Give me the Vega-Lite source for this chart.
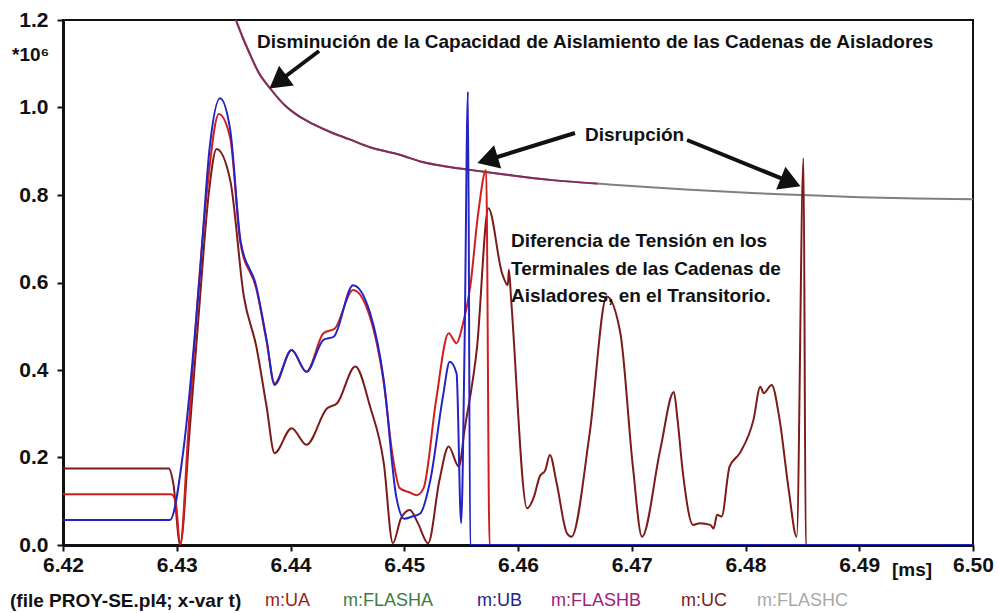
{
  "$schema": "https://vega.github.io/schema/vega-lite/v6.json",
  "width": 910,
  "height": 525,
  "autosize": {"type": "none"},
  "padding": {"left": 63, "top": 20, "right": 25, "bottom": 68},
  "background": "white",
  "config": {
    "font": "Liberation Sans",
    "view": {"stroke": "#111", "strokeWidth": 2},
    "axis": {
      "domainColor": "#111",
      "domainWidth": 3,
      "tickColor": "#111",
      "tickWidth": 2,
      "tickSize": 6,
      "labelColor": "#111",
      "labelFont": "Liberation Sans",
      "labelFontSize": 21,
      "labelFontWeight": "bold",
      "labelFlush": false,
      "labelOverlap": false,
      "grid": false,
      "title": null,
      "zindex": 1
    }
  },
  "datasets": {
    "curves": [
      {"s": "m:FLASHC", "t": 6.4352, "v": 1.2},
      {"s": "m:FLASHC", "t": 6.4358, "v": 1.16},
      {"s": "m:FLASHC", "t": 6.4364, "v": 1.124},
      {"s": "m:FLASHC", "t": 6.4372, "v": 1.08},
      {"s": "m:FLASHC", "t": 6.4382, "v": 1.044},
      {"s": "m:FLASHC", "t": 6.4395, "v": 1.005},
      {"s": "m:FLASHC", "t": 6.4408, "v": 0.979},
      {"s": "m:FLASHC", "t": 6.442, "v": 0.962},
      {"s": "m:FLASHC", "t": 6.4435, "v": 0.944},
      {"s": "m:FLASHC", "t": 6.4452, "v": 0.927},
      {"s": "m:FLASHC", "t": 6.447, "v": 0.909},
      {"s": "m:FLASHC", "t": 6.4496, "v": 0.892},
      {"s": "m:FLASHC", "t": 6.4515, "v": 0.876},
      {"s": "m:FLASHC", "t": 6.454, "v": 0.864},
      {"s": "m:FLASHC", "t": 6.4556, "v": 0.858},
      {"s": "m:FLASHC", "t": 6.4585, "v": 0.848},
      {"s": "m:FLASHC", "t": 6.463, "v": 0.834},
      {"s": "m:FLASHC", "t": 6.468, "v": 0.824},
      {"s": "m:FLASHC", "t": 6.472, "v": 0.817},
      {"s": "m:FLASHC", "t": 6.476, "v": 0.811},
      {"s": "m:FLASHC", "t": 6.481, "v": 0.804},
      {"s": "m:FLASHC", "t": 6.485, "v": 0.8},
      {"s": "m:FLASHC", "t": 6.49, "v": 0.795},
      {"s": "m:FLASHC", "t": 6.495, "v": 0.792},
      {"s": "m:FLASHC", "t": 6.5, "v": 0.79},

      {"s": "m:FLASHB", "t": 6.4352, "v": 1.2},
      {"s": "m:FLASHB", "t": 6.4358, "v": 1.16},
      {"s": "m:FLASHB", "t": 6.4364, "v": 1.124},
      {"s": "m:FLASHB", "t": 6.4372, "v": 1.08},
      {"s": "m:FLASHB", "t": 6.4382, "v": 1.044},
      {"s": "m:FLASHB", "t": 6.4395, "v": 1.005},
      {"s": "m:FLASHB", "t": 6.4408, "v": 0.979},
      {"s": "m:FLASHB", "t": 6.442, "v": 0.962},
      {"s": "m:FLASHB", "t": 6.4435, "v": 0.944},
      {"s": "m:FLASHB", "t": 6.4452, "v": 0.927},
      {"s": "m:FLASHB", "t": 6.447, "v": 0.909},
      {"s": "m:FLASHB", "t": 6.4496, "v": 0.892},
      {"s": "m:FLASHB", "t": 6.4515, "v": 0.876},
      {"s": "m:FLASHB", "t": 6.454, "v": 0.864},
      {"s": "m:FLASHB", "t": 6.4556, "v": 0.858},
      {"s": "m:FLASHB", "t": 6.4585, "v": 0.848},
      {"s": "m:FLASHB", "t": 6.463, "v": 0.834},
      {"s": "m:FLASHB", "t": 6.467, "v": 0.826},

      {"s": "m:UC", "t": 6.42, "v": 0.175},
      {"s": "m:UC", "t": 6.4293, "v": 0.175},
      {"s": "m:UC", "t": 6.4297, "v": 0.14},
      {"s": "m:UC", "t": 6.4303, "v": 0.0},
      {"s": "m:UC", "t": 6.4311, "v": 0.25},
      {"s": "m:UC", "t": 6.432, "v": 0.55},
      {"s": "m:UC", "t": 6.4328, "v": 0.8},
      {"s": "m:UC", "t": 6.4335, "v": 0.905},
      {"s": "m:UC", "t": 6.4347, "v": 0.834},
      {"s": "m:UC", "t": 6.4359, "v": 0.568},
      {"s": "m:UC", "t": 6.437, "v": 0.453},
      {"s": "m:UC", "t": 6.4379, "v": 0.316},
      {"s": "m:UC", "t": 6.4386, "v": 0.21},
      {"s": "m:UC", "t": 6.4401, "v": 0.267},
      {"s": "m:UC", "t": 6.4414, "v": 0.229},
      {"s": "m:UC", "t": 6.4432, "v": 0.312},
      {"s": "m:UC", "t": 6.4441, "v": 0.324},
      {"s": "m:UC", "t": 6.4457, "v": 0.408},
      {"s": "m:UC", "t": 6.447, "v": 0.316},
      {"s": "m:UC", "t": 6.4482, "v": 0.187},
      {"s": "m:UC", "t": 6.449, "v": 0.004},
      {"s": "m:UC", "t": 6.4497, "v": 0.06},
      {"s": "m:UC", "t": 6.4505, "v": 0.08},
      {"s": "m:UC", "t": 6.4512, "v": 0.05},
      {"s": "m:UC", "t": 6.4521, "v": 0.004},
      {"s": "m:UC", "t": 6.4531, "v": 0.149},
      {"s": "m:UC", "t": 6.4539, "v": 0.225},
      {"s": "m:UC", "t": 6.4548, "v": 0.179},
      {"s": "m:UC", "t": 6.4553, "v": 0.263},
      {"s": "m:UC", "t": 6.4564, "v": 0.453},
      {"s": "m:UC", "t": 6.4574, "v": 0.77},
      {"s": "m:UC", "t": 6.4586, "v": 0.621},
      {"s": "m:UC", "t": 6.4591, "v": 0.594},
      {"s": "m:UC", "t": 6.4592, "v": 0.629},
      {"s": "m:UC", "t": 6.4594, "v": 0.56},
      {"s": "m:UC", "t": 6.4608, "v": 0.084},
      {"s": "m:UC", "t": 6.4614, "v": 0.11},
      {"s": "m:UC", "t": 6.4619, "v": 0.156},
      {"s": "m:UC", "t": 6.4624, "v": 0.171},
      {"s": "m:UC", "t": 6.4628, "v": 0.206},
      {"s": "m:UC", "t": 6.4634, "v": 0.141},
      {"s": "m:UC", "t": 6.4643, "v": 0.027},
      {"s": "m:UC", "t": 6.4647, "v": 0.019},
      {"s": "m:UC", "t": 6.4663, "v": 0.255},
      {"s": "m:UC", "t": 6.4678, "v": 0.568},
      {"s": "m:UC", "t": 6.469, "v": 0.484},
      {"s": "m:UC", "t": 6.4701, "v": 0.179},
      {"s": "m:UC", "t": 6.4709, "v": 0.019},
      {"s": "m:UC", "t": 6.4725, "v": 0.217},
      {"s": "m:UC", "t": 6.4737, "v": 0.35},
      {"s": "m:UC", "t": 6.474, "v": 0.293},
      {"s": "m:UC", "t": 6.4745, "v": 0.164},
      {"s": "m:UC", "t": 6.4754, "v": 0.046},
      {"s": "m:UC", "t": 6.476, "v": 0.05},
      {"s": "m:UC", "t": 6.4769, "v": 0.046},
      {"s": "m:UC", "t": 6.4772, "v": 0.038},
      {"s": "m:UC", "t": 6.4775, "v": 0.069},
      {"s": "m:UC", "t": 6.4779, "v": 0.065},
      {"s": "m:UC", "t": 6.4786, "v": 0.179},
      {"s": "m:UC", "t": 6.4795, "v": 0.21},
      {"s": "m:UC", "t": 6.4807, "v": 0.286},
      {"s": "m:UC", "t": 6.4813, "v": 0.362},
      {"s": "m:UC", "t": 6.4816, "v": 0.347},
      {"s": "m:UC", "t": 6.4823, "v": 0.366},
      {"s": "m:UC", "t": 6.483, "v": 0.286},
      {"s": "m:UC", "t": 6.4838, "v": 0.126},
      {"s": "m:UC", "t": 6.4845, "v": 0.019},
      {"s": "m:UC", "t": 6.4851, "v": 0.884},
      {"s": "m:UC", "t": 6.4853, "v": 0.0},
      {"s": "m:UC", "t": 6.5, "v": 0.0},

      {"s": "m:UA", "t": 6.42, "v": 0.116},
      {"s": "m:UA", "t": 6.4295, "v": 0.116},
      {"s": "m:UA", "t": 6.4299, "v": 0.1},
      {"s": "m:UA", "t": 6.4303, "v": 0.0},
      {"s": "m:UA", "t": 6.431, "v": 0.25},
      {"s": "m:UA", "t": 6.4318, "v": 0.55},
      {"s": "m:UA", "t": 6.4327, "v": 0.82},
      {"s": "m:UA", "t": 6.4337, "v": 0.985},
      {"s": "m:UA", "t": 6.4347, "v": 0.93},
      {"s": "m:UA", "t": 6.4356, "v": 0.69},
      {"s": "m:UA", "t": 6.437, "v": 0.585},
      {"s": "m:UA", "t": 6.4379, "v": 0.465},
      {"s": "m:UA", "t": 6.4386, "v": 0.37},
      {"s": "m:UA", "t": 6.4401, "v": 0.446},
      {"s": "m:UA", "t": 6.4414, "v": 0.396},
      {"s": "m:UA", "t": 6.4429, "v": 0.484},
      {"s": "m:UA", "t": 6.4439, "v": 0.495},
      {"s": "m:UA", "t": 6.4455, "v": 0.583},
      {"s": "m:UA", "t": 6.447, "v": 0.52},
      {"s": "m:UA", "t": 6.4482, "v": 0.37},
      {"s": "m:UA", "t": 6.449, "v": 0.2},
      {"s": "m:UA", "t": 6.4496, "v": 0.13},
      {"s": "m:UA", "t": 6.4505, "v": 0.12},
      {"s": "m:UA", "t": 6.4511, "v": 0.114},
      {"s": "m:UA", "t": 6.4517, "v": 0.13},
      {"s": "m:UA", "t": 6.4528, "v": 0.331},
      {"s": "m:UA", "t": 6.4539, "v": 0.484},
      {"s": "m:UA", "t": 6.4546, "v": 0.461},
      {"s": "m:UA", "t": 6.4551, "v": 0.499},
      {"s": "m:UA", "t": 6.4558, "v": 0.59},
      {"s": "m:UA", "t": 6.4565, "v": 0.758},
      {"s": "m:UA", "t": 6.4572, "v": 0.857},
      {"s": "m:UA", "t": 6.4575, "v": 0.0},
      {"s": "m:UA", "t": 6.5, "v": 0.0},

      {"s": "m:UB", "t": 6.42, "v": 0.057},
      {"s": "m:UB", "t": 6.4294, "v": 0.057},
      {"s": "m:UB", "t": 6.4306, "v": 0.22},
      {"s": "m:UB", "t": 6.432, "v": 0.606},
      {"s": "m:UB", "t": 6.4329, "v": 0.91},
      {"s": "m:UB", "t": 6.4338, "v": 1.021},
      {"s": "m:UB", "t": 6.4347, "v": 0.949},
      {"s": "m:UB", "t": 6.4356, "v": 0.697},
      {"s": "m:UB", "t": 6.437, "v": 0.59},
      {"s": "m:UB", "t": 6.4379, "v": 0.469},
      {"s": "m:UB", "t": 6.4386, "v": 0.366},
      {"s": "m:UB", "t": 6.4401, "v": 0.446},
      {"s": "m:UB", "t": 6.4414, "v": 0.396},
      {"s": "m:UB", "t": 6.4429, "v": 0.469},
      {"s": "m:UB", "t": 6.4438, "v": 0.476},
      {"s": "m:UB", "t": 6.4455, "v": 0.594},
      {"s": "m:UB", "t": 6.447, "v": 0.53},
      {"s": "m:UB", "t": 6.4482, "v": 0.377},
      {"s": "m:UB", "t": 6.4493, "v": 0.11},
      {"s": "m:UB", "t": 6.45, "v": 0.06},
      {"s": "m:UB", "t": 6.4507, "v": 0.065},
      {"s": "m:UB", "t": 6.4514, "v": 0.072},
      {"s": "m:UB", "t": 6.4523, "v": 0.149},
      {"s": "m:UB", "t": 6.4534, "v": 0.339},
      {"s": "m:UB", "t": 6.454, "v": 0.419},
      {"s": "m:UB", "t": 6.4546, "v": 0.392},
      {"s": "m:UB", "t": 6.455, "v": 0.05},
      {"s": "m:UB", "t": 6.4553, "v": 0.45},
      {"s": "m:UB", "t": 6.4556, "v": 1.036},
      {"s": "m:UB", "t": 6.4558, "v": 0.0},
      {"s": "m:UB", "t": 6.5, "v": 0.0}
    ],
    "arrows": [
      {"t": 6.44251, "v": 1.1291, "t2": 6.4389, "v2": 1.0583, "angle": 233},
      {"t": 6.46501, "v": 0.9417, "t2": 6.45732, "v2": 0.88, "angle": 253},
      {"t": 6.47486, "v": 0.9257, "t2": 6.48397, "v2": 0.8293, "angle": 112}
    ],
    "notes": [
      {"text": "Disminución de la Capacidad de Aislamiento de las Cadenas de Aisladores", "t": 6.43705, "v": 1.1497},
      {"text": "Disrupción", "t": 6.46589, "v": 0.9371},
      {"text": "Diferencia de Tensión en los", "t": 6.45938, "v": 0.6949},
      {"text": "Terminales de las Cadenas de", "t": 6.45938, "v": 0.6309},
      {"text": "Aisladores, en el Transitorio.", "t": 6.45938, "v": 0.5691}
    ],
    "marks": [
      {"text": "*10⁶", "t": 6.41552, "v": 1.12},
      {"text": "[ms]", "t": 6.49288, "v": -0.0571},
      {"text": "(file PROY-SE.pl4; x-var t)", "t": 6.41534, "v": -0.128}
    ],
    "legend": [
      {"s": "m:UA", "t": 6.43776, "v": -0.128},
      {"s": "m:FLASHA", "t": 6.44462, "v": -0.128},
      {"s": "m:UB", "t": 6.4564, "v": -0.128},
      {"s": "m:FLASHB", "t": 6.4629, "v": -0.128},
      {"s": "m:UC", "t": 6.47433, "v": -0.128},
      {"s": "m:FLASHC", "t": 6.48101, "v": -0.128}
    ]
  },
  "resolve": {"scale": {"color": "independent"}},
  "layer": [
    {
      "data": {"name": "curves"},
      "mark": {"type": "line", "strokeWidth": 2, "interpolate": "monotone", "clip": true},
      "encoding": {
        "x": {
          "field": "t", "type": "quantitative",
          "scale": {"domain": [6.42, 6.5], "nice": false, "zero": false},
          "axis": {"values": [6.42, 6.43, 6.44, 6.45, 6.46, 6.47, 6.48, 6.49, 6.5], "format": ".2f", "labelPadding": 3}
        },
        "y": {
          "field": "v", "type": "quantitative",
          "scale": {"domain": [0, 1.2], "nice": false},
          "axis": {"values": [0, 0.2, 0.4, 0.6, 0.8, 1.0, 1.2], "format": ".1f", "labelPadding": 9}
        },
        "color": {
          "field": "s", "type": "nominal", "legend": null,
          "scale": {
            "domain": ["m:UA", "m:FLASHA", "m:UB", "m:FLASHB", "m:UC", "m:FLASHC"],
            "range": ["#d01e1e", "#3c7d3c", "#2424c4", "#862a5c", "#7d1a1a", "#808080"]
          }
        },
        "order": {"field": "t", "type": "quantitative"}
      }
    },
    {
      "data": {"name": "arrows"},
      "mark": {"type": "rule", "color": "#111", "strokeWidth": 4},
      "encoding": {
        "x": {"field": "t", "type": "quantitative"},
        "y": {"field": "v", "type": "quantitative"},
        "x2": {"field": "t2"},
        "y2": {"field": "v2"}
      }
    },
    {
      "data": {"name": "arrows"},
      "mark": {"type": "point", "shape": "triangle-up", "filled": true, "color": "#111", "size": 600, "opacity": 1},
      "encoding": {
        "x": {"field": "t2", "type": "quantitative"},
        "y": {"field": "v2", "type": "quantitative"},
        "angle": {"field": "angle", "type": "quantitative", "scale": null}
      }
    },
    {
      "data": {"name": "notes"},
      "mark": {"type": "text", "align": "left", "baseline": "middle", "fontSize": 19, "fontWeight": "bold", "color": "#111"},
      "encoding": {
        "x": {"field": "t", "type": "quantitative"},
        "y": {"field": "v", "type": "quantitative"},
        "text": {"field": "text"}
      }
    },
    {
      "data": {"name": "marks"},
      "mark": {"type": "text", "align": "left", "baseline": "middle", "fontSize": 19, "fontWeight": "bold", "color": "#111"},
      "encoding": {
        "x": {"field": "t", "type": "quantitative"},
        "y": {"field": "v", "type": "quantitative"},
        "text": {"field": "text"}
      }
    },
    {
      "data": {"name": "legend"},
      "mark": {"type": "text", "align": "left", "baseline": "middle", "fontSize": 18},
      "encoding": {
        "x": {"field": "t", "type": "quantitative"},
        "y": {"field": "v", "type": "quantitative"},
        "text": {"field": "s"},
        "color": {
          "field": "s", "type": "nominal", "legend": null,
          "scale": {
            "domain": ["m:UA", "m:FLASHA", "m:UB", "m:FLASHB", "m:UC", "m:FLASHC"],
            "range": ["#a01a1a", "#3c7d3c", "#23238c", "#a0207a", "#7a1a1a", "#a8a8a8"]
          }
        }
      }
    }
  ]
}
